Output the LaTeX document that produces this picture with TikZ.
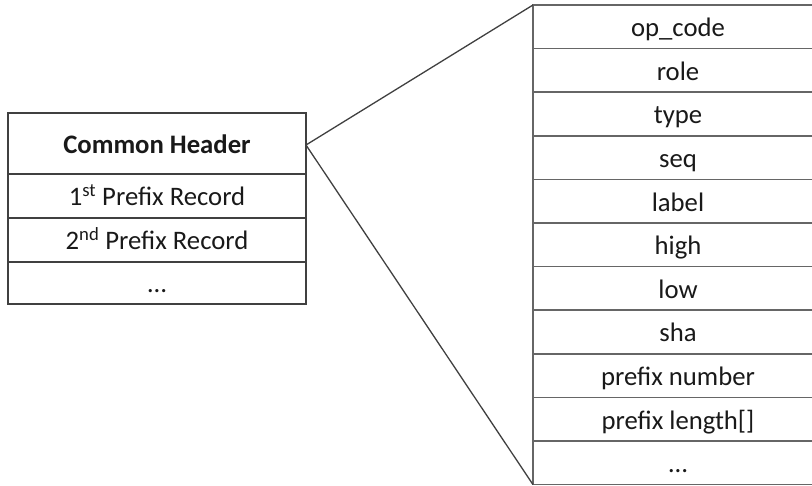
\documentclass[tikz,border=0pt]{standalone}
\usepackage{fontspec}
\setmainfont{Carlito}
\begin{document}
\begin{tikzpicture}[x=1pt,y=-1pt,
  cell/.style={draw=black!75, line width=1.3pt, rectangle, anchor=north west,
    inner sep=0pt, outer sep=0pt, align=center, text=black!90,
    font=\fontsize{26.7}{30}\selectfont, text height=21pt, text depth=1pt},
  lcell/.style={cell, minimum width=298pt, minimum height=44pt},
  rcell/.style={cell, draw=black!60, line width=1.6pt, minimum width=290pt, minimum height=43.6pt},
  zoomline/.style={draw=black!75, line width=1.3pt}]
\useasboundingbox (0,0) rectangle (812,486);
\clip (0,0) rectangle (812,486);

% packet layout
\node[lcell, minimum height=61pt] (hdr) at (8,113) {\textbf{Common Header}};
\node[lcell] (pr1) at (8,174) {1\textsuperscript{st} Prefix Record};
\node[lcell] (pr2) at (8,218) {2\textsuperscript{nd} Prefix Record};
\node[lcell, minimum height=42pt] (prn) at (8,262) {\dots};

% header fields
\node[rcell] (f1)  at (533,5.0)   {op\_code};
\node[rcell] (f2)  at (533,48.6)  {role};
\node[rcell] (f3)  at (533,92.2)  {type};
\node[rcell] (f4)  at (533,135.8) {seq};
\node[rcell] (f5)  at (533,179.4) {label};
\node[rcell] (f6)  at (533,223.0) {high};
\node[rcell] (f7)  at (533,266.6) {low};
\node[rcell] (f8)  at (533,310.2) {sha};
\node[rcell] (f9)  at (533,353.8) {prefix number};
\node[rcell] (f10) at (533,397.4) {prefix length[]};
\node[rcell] (f11) at (533,441.0) {\dots};

% expansion lines
\draw[zoomline] (f1.north west) -- ([yshift=-1.5pt]hdr.east) -- (f11.south west);
\end{tikzpicture}
\end{document}
